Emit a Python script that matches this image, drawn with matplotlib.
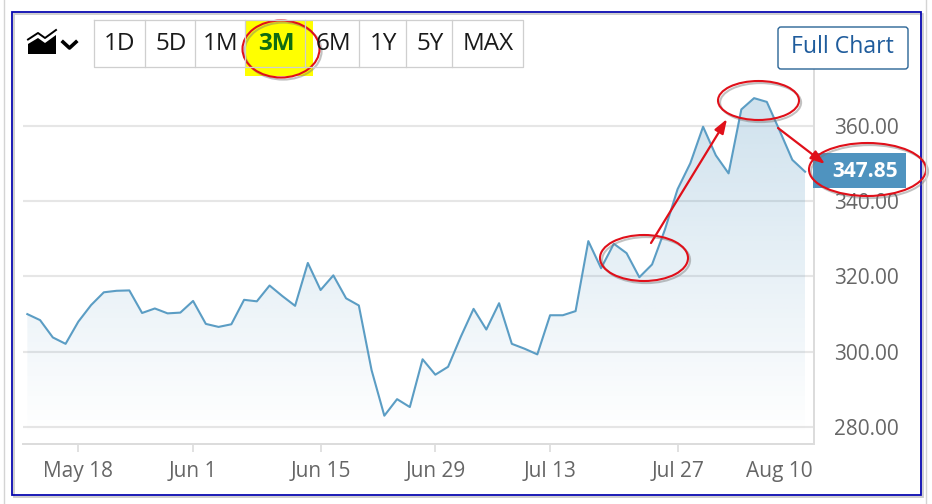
import numpy as np
import matplotlib
matplotlib.use("Agg")
import matplotlib.pyplot as plt
import matplotlib.patheffects as pe
from matplotlib.patches import Ellipse, Rectangle, FancyBboxPatch, Polygon


plt.rcParams["font.family"] = ["Open Sans", "Noto Sans", "DejaVu Sans"]

# daily close
close = [310.0, 308.4, 303.8, 302.1, 308.0, 312.4, 315.8, 316.2, 316.3, 310.3,
         311.5, 310.2, 310.4, 313.5, 307.4, 306.6, 307.3, 313.8, 313.4, 317.6,
         314.8, 312.2, 323.6, 316.4, 320.3, 314.2, 312.3, 295.1, 283.0, 287.4,
         285.3, 298.0, 293.9, 296.0, 304.0, 311.4, 305.9, 312.9, 302.1, 300.8,
         299.3, 309.7, 309.7, 310.8, 329.4, 322.2, 328.7, 326.2, 319.8, 323.2,
         332.4, 343.2, 350.1, 359.8, 352.2, 347.4, 364.4, 367.4, 366.4, 358.8,
         351.0, 347.85]
date_ticks = [4, 13, 23, 32, 41, 51]
date_labels = ["May 18", "Jun 1", "Jun 15", "Jun 29", "Jul 13", "Jul 27"]
last_label = "Aug 10"
price_ticks = [280, 300, 320, 340, 360]
ranges = ["1D", "5D", "1M", "3M", "6M", "1Y", "5Y", "MAX"]
range_edges = [93.5, 144.5, 195, 245, 305, 359, 406, 452, 522.5]

W, H = 932, 504
LINE = "#5b9dc4"
TEXT = "#666666"
RED = "#e0101a"

fig = plt.figure(figsize=(W / 100, H / 100), dpi=100, facecolor="white")

### price chart
ax = fig.add_axes([23 / W, 1 - 444 / H, 791 / W, 374 / H])
ax.set_facecolor("none")
ax.set_axisbelow(True)
ax.grid(axis="y", color="#e6e6e6", lw=1.5)
for side in ["top", "left"]:
    ax.spines[side].set_visible(False)
for side in ["right", "bottom"]:
    ax.spines[side].set_color("#dcdcdc")
    ax.spines[side].set_linewidth(1.4)

x = np.arange(len(close))
ax.plot(x, close, color=LINE, lw=1.5, zorder=4)

# area under the line fades out towards the bottom
shade = np.zeros((256, 2, 4))
shade[..., :3] = matplotlib.colors.to_rgb("#4f93bf")
shade[..., 3] = np.linspace(0.28, 0.0, 256)[:, None]
img = ax.imshow(shade, extent=[0, x[-1], 278, 370], origin="upper", aspect="auto", zorder=3)
ax.set_xlim(-0.34, 61.7)
ax.set_ylim(275.48, 374.88)
area = Polygon(list(zip(x, close)) + [(x[-1], 275.48), (0, 275.48)], transform=ax.transData, fc="none", ec="none")
ax.add_patch(area)
img.set_clip_path(area)

ax.set_xticks(date_ticks, date_labels)
ax.set_yticks(price_ticks, [f"{p:.2f}" for p in price_ticks])
ax.yaxis.tick_right()
ax.tick_params(axis="x", length=6, width=1.2, color="#dcdcdc", labelcolor=TEXT, labelsize=15, pad=6.5)
ax.tick_params(axis="y", length=0, labelcolor=TEXT, labelsize=15, pad=14.5)

# last date has no tick, label is pushed inside
ax.annotate(last_label, xy=(x[-1], 0), xycoords=ax.get_xaxis_transform(), xytext=(-26, -27),
            textcoords="offset pixels", ha="center", va="center", color=TEXT, fontsize=15,
            annotation_clip=False)

# current price tag
ax.add_patch(Rectangle((1 - 1 / 791, close[-1] - 4.4), 93 / 791, 9.3, transform=ax.get_yaxis_transform(),
                       fc="#4f93bf", ec="none", clip_on=False, zorder=6))
ax.annotate(f"{close[-1]:.2f}", xy=(1, close[-1]), xycoords=ax.get_yaxis_transform(), xytext=(51, 0),
            textcoords="offset pixels", ha="center", va="center", color="white", fontsize=15,
            fontweight="bold", zorder=7, annotation_clip=False)

### page furniture, in pixel coordinates
ui = fig.add_axes([0, 0, 1, 1])
ui.set_xlim(0, W)
ui.set_ylim(H, 0)
ui.axis("off")
ui.patch.set_alpha(0)

frame_shadow = [pe.SimpleLineShadow(offset=(1.5, -1.5), shadow_color="#999999", alpha=0.5), pe.Normal()]
ui.plot([4, 4], [0, H], color="#d4d4d4", lw=1)
ui.plot([926, 926], [0, H], color="#d4d4d4", lw=1)
ui.add_patch(Rectangle((12, 12), 909, 483, fc="none", ec="#0808b0", lw=1.3, path_effects=frame_shadow))

# range buttons
ui.add_patch(Rectangle((245, 20), 68, 56, fc="#ffff00", ec="none"))
ui.plot([range_edges[0], range_edges[-1], range_edges[-1], range_edges[0], range_edges[0]],
        [20, 20, 67, 67, 20], color="#cfcfcf", lw=0.9)
for edge in range_edges[1:-1]:
    ui.plot([edge, edge], [20, 67], color="#cfcfcf", lw=0.9)
for i, name in enumerate(ranges):
    active = name == "3M"
    ui.text((range_edges[i] + range_edges[i + 1]) / 2 + 1, 44.5, name, ha="center", va="center", fontsize=17.5,
            color="#0f6b12" if active else "#1a1a1a", fontweight="bold" if active else "normal")

# chart type icon
ui.add_patch(Polygon([(28, 54), (28, 44), (38, 38), (45, 43), (56, 35), (56, 54)], fc="black", ec="none"))
ui.plot([28, 38, 45, 56], [39.5, 33, 38, 30], color="black", lw=1.4)
ui.plot([63, 69.5, 76], [42, 48, 42], color="black", lw=2.6)

# full chart button
ui.add_patch(FancyBboxPatch((778, 27), 130, 42, boxstyle="round,pad=0,rounding_size=3", fc="white", ec="#2a6496", lw=1))
ui.text(842.5, 47, "Full Chart", ha="center", va="center", fontsize=16.6, color="#1f5c9c")

# hand drawn marks
shadow = [pe.SimpleLineShadow(offset=(1.5, -1.5), shadow_color="#777777", alpha=0.45), pe.Normal()]
for cx, cy, w, h in [(281, 49, 77, 57), (644, 258, 88, 46), (758.5, 100.5, 81, 39), (867.5, 169.5, 117, 53)]:
    ui.add_patch(Ellipse((cx, cy), w, h, fc="none", ec=RED, lw=1.5, path_effects=shadow))
for start, end in [((651, 243), (727, 119)), ((778, 128), (825, 164))]:
    ui.annotate("", xy=end, xytext=start, arrowprops=dict(arrowstyle="-|>,head_length=0.85,head_width=0.3",
                                                          color=RED, lw=1.6, shrinkA=0, shrinkB=0))

fig.savefig("out.png", dpi=100)
